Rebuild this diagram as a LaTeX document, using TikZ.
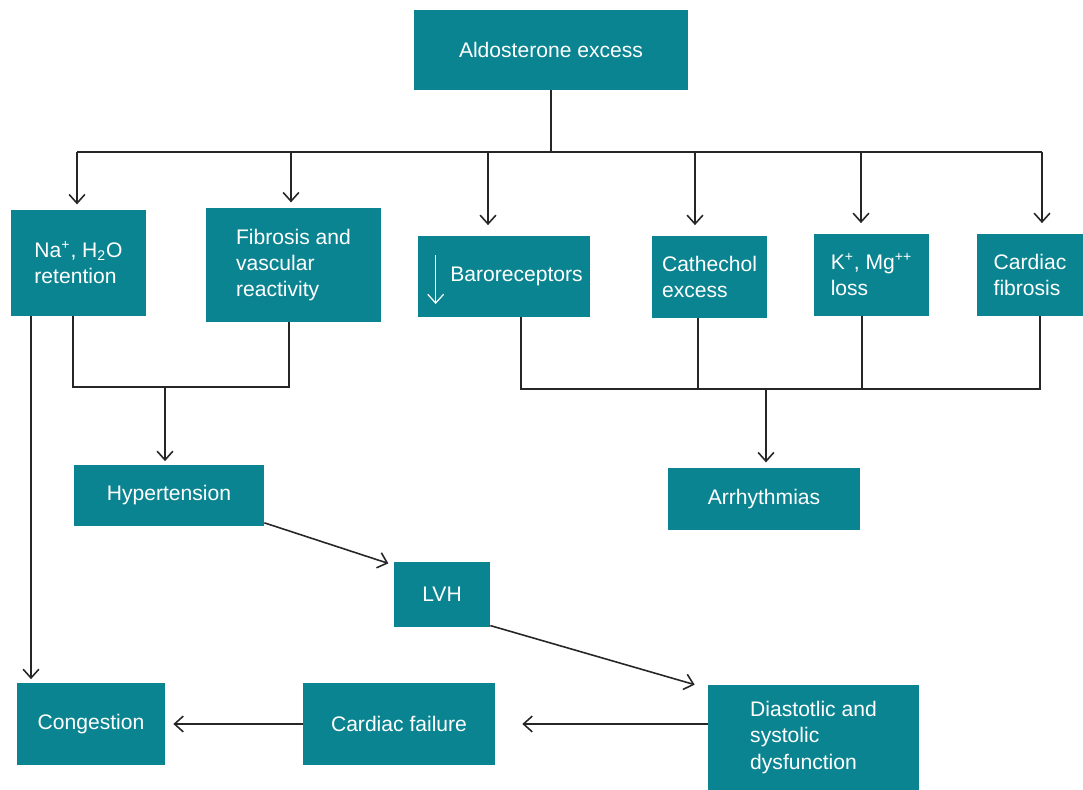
\documentclass[tikz,border=0pt]{standalone}
\usepackage{fontspec}
\setmainfont{Liberation Sans}
\usepackage{xcolor}
\usepackage{tikz}
\usetikzlibrary{arrows.meta,positioning}

\definecolor{tealbox}{RGB}{11,132,145}

\begin{document}
\begin{tikzpicture}[
    x=0.02cm, y=-0.02cm,
    box/.style={fill=tealbox, text=white, inner sep=0pt, align=left, font=\fontsize{12}{15}\selectfont},
    wire/.style={draw=black!85, line width=0.9pt},
    arr/.style={wire, -{Straight Barb[length=5pt, width=9pt]}}
  ]
  \useasboundingbox (0,0) rectangle (1083,790);

  \node[box, minimum width=5.48cm, minimum height=1.6cm] (aldo) at (551,50) {Aldosterone excess};
  \node[box, minimum width=2.7cm, minimum height=2.12cm] (na) at (78.5,263) {Na\textsuperscript{+}, H\textsubscript{2}O\\retention};
  \node[box, minimum width=3.5cm, minimum height=2.28cm] (fib) at (293.5,265) {Fibrosis and\\vascular\\reactivity};
  \node[box, minimum width=3.44cm, minimum height=1.62cm] (baro) at (504,276.5) {\hspace*{0.5cm}Baroreceptors};
  \node[box, minimum width=2.3cm, minimum height=1.64cm] (cat) at (709.5,277) {Cathechol\\excess};
  \node[box, minimum width=2.3cm, minimum height=1.64cm] (kmg) at (871.5,275) {K\textsuperscript{+}, Mg\textsuperscript{++}\\loss};
  \node[box, minimum width=2.12cm, minimum height=1.64cm] (cfib) at (1030,275) {Cardiac\\fibrosis};
  \node[box, minimum width=3.8cm, minimum height=1.22cm] (hyp) at (169,495.5) {Hypertension};
  \node[box, minimum width=3.84cm, minimum height=1.24cm] (arrh) at (764,499) {Arrhythmias};
  \node[box, minimum width=1.92cm, minimum height=1.3cm] (lvh) at (442,594.5) {LVH};
  \node[box, minimum width=2.96cm, minimum height=1.64cm] (cong) at (91,724) {Congestion};
  \node[box, minimum width=3.84cm, minimum height=1.64cm] (cfail) at (399,724) {Cardiac failure};
  \node[box, minimum width=4.22cm, minimum height=2.1cm] (dys) at (813.5,737.5) {Diastotlic and\\systolic\\dysfunction};

  % down arrow in the baroreceptor box
  \draw[arr, draw=white, line width=0.7pt] ([xshift=0.36cm, yshift=0.43cm]baro.west) -- ([xshift=0.36cm, yshift=-0.55cm]baro.west);

  % top bus
  \coordinate (bus) at (551,152);
  \draw[wire] (aldo) -- (bus);
  \draw[wire] (77,152) -- (1042,152);
  \foreach \n/\x/\g in {na/77/3pt, fib/291/3pt, baro/488/6pt, cat/695/6pt, kmg/861/6pt, cfib/1042/6pt}
    \draw[arr, shorten >=\g] (\x,152) -- (\x,0 |- \n.north);

  % left group
  \coordinate (lbus) at (165,387);
  \draw[wire] (73,0 |- na.south) |- (lbus) -| (289,0 |- fib.south);
  \draw[arr, shorten >=2pt] (lbus) -- (lbus |- hyp.north);
  \draw[arr, shorten >=2pt] (31,0 |- na.south) -- (31,0 |- cong.north);

  % right group
  \coordinate (rbus) at (766,389);
  \draw[wire] (521,0 |- baro.south) |- (1040,389) -- (1040,0 |- cfib.south);
  \draw[wire] (698,0 |- cat.south) -- (698,389);
  \draw[wire] (862,0 |- kmg.south) -- (862,389);
  \draw[arr, shorten >=3pt] (rbus) -- (rbus |- arrh.north);

  % chain
  \draw[arr] ([yshift=2pt]hyp.south east) -- ([xshift=-3pt, yshift=-1pt]lvh.north west);
  \draw[arr] ([yshift=1pt]lvh.south east) -- ([xshift=-0.26cm]dys.north west);
  \draw[arr, shorten >=0.54cm] (dys.west |- cfail) -- (cfail.east);
  \draw[arr, shorten >=0.16cm] (cfail) -- (cong);
\end{tikzpicture}
\end{document}
